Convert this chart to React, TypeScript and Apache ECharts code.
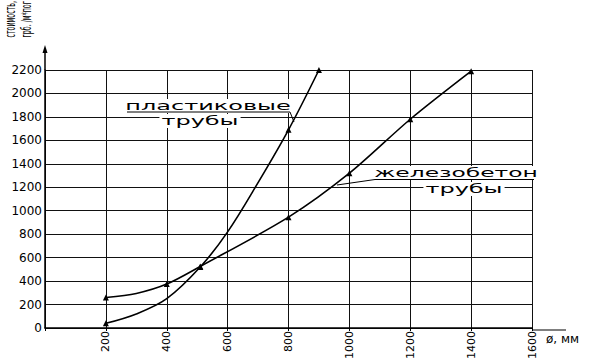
import React, { useEffect, useRef } from "react";
import * as echarts from "echarts";

// ---- data ----
const xTicks = [0, 1600, 200]; // min, max, interval (mm)
const yTicks = [0, 2200, 200]; // min, max, interval (cost)

const plasticX = [200, 300, 400, 510, 600, 700, 800, 900];
const plasticY = [40, 120, 250, 520, 820, 1240, 1690, 2200];
const plasticMarked = [true, false, false, true, false, false, true, true];

const concreteX = [200, 300, 400, 510, 800, 1000, 1200, 1400];
const concreteY = [260, 295, 375, 525, 945, 1320, 1780, 2190];
const concreteMarked = [true, false, true, true, true, true, true, true];

const yTitle1 = "стоимость,";
const yTitle2 = "грб. /м*пог";
const xTitle = "ø, мм";
const plasticLabel = ["пластиковые", "трубы"];
const concreteLabel = ["железобетон", "трубы"];

const FONT = "DejaVu Sans";

function build(xs: number[], ys: number[], marked: boolean[]) {
  return xs.map((x, i) => ({
    value: [x, ys[i]],
    symbol: marked[i] ? "triangle" : "none",
  }));
}

export default function App() {
  const ref = useRef<HTMLDivElement>(null);
  useEffect(() => {
    if (!ref.current) return;
    document.body.style.margin = "0";
    const chart = echarts.init(ref.current, undefined, { renderer: "svg" });
    const lineStyle = { color: "#000", width: 1.6 };
    const txt = (
      text: string,
      x: number,
      y: number,
      size: number,
      sx: number,
      bg?: boolean
    ) => ({
      type: "text",
      x,
      y,
      scaleX: sx,
      z: 10,
      style: {
        text,
        fontSize: size,
        fontFamily: FONT,
        fill: "#000",
        align: "center",
        verticalAlign: "middle",
        backgroundColor: bg ? "#fff" : undefined,
        padding: bg ? [1, 1] : undefined,
      },
    });
    const ln = (x1: number, y1: number, x2: number, y2: number, w = 1) => ({
      type: "line",
      z: 10,
      shape: { x1, y1, x2, y2 },
      style: { stroke: "#000", lineWidth: w },
    });
    const vtext = (text: string, x: number) => ({
      type: "text",
      x,
      y: 1,
      rotation: Math.PI / 2,
      scaleX: 0.45,
      style: {
        text,
        fontSize: 14,
        fontFamily: FONT,
        fill: "#000",
        align: "right",
        verticalAlign: "middle",
      },
    });
    chart.setOption({
      animation: false,
      backgroundColor: "#fff",
      grid: { left: 45, right: 77, top: 70, bottom: 32, containLabel: false },
      xAxis: {
        type: "value",
        min: xTicks[0],
        max: xTicks[1],
        interval: xTicks[2],
        axisLine: { show: true, lineStyle: { color: "#000", width: 1.5 } },
        axisTick: { show: true, length: 3, lineStyle: { color: "#000" } },
        splitLine: { show: true, lineStyle: { color: "#111", width: 1 } },
        axisLabel: {
          rotate: 90,
          margin: 3,
          color: "#000",
          fontSize: 11,
          fontFamily: FONT,
          formatter: (v: number) => (v === 0 ? "" : String(v)),
        },
      },
      yAxis: {
        type: "value",
        min: yTicks[0],
        max: yTicks[1],
        interval: yTicks[2],
        axisLine: { show: true, lineStyle: { color: "#000", width: 1.5 } },
        axisTick: { show: false },
        splitLine: { show: true, lineStyle: { color: "#111", width: 1 } },
        axisLabel: {
          margin: 3,
          color: "#000",
          fontSize: 12,
          fontFamily: FONT,
          formatter: (v: number) => String(v),
        },
      },
      series: [
        {
          name: "пластиковые трубы",
          type: "line",
          smooth: 0.35,
          symbolSize: 6,
          itemStyle: { color: "#000" },
          lineStyle,
          data: build(plasticX, plasticY, plasticMarked),
        },
        {
          name: "железобетон трубы",
          type: "line",
          smooth: 0.3,
          symbolSize: 6,
          itemStyle: { color: "#000" },
          lineStyle,
          data: build(concreteX, concreteY, concreteMarked),
        },
      ],
      graphic: [
        // y axis extension with arrow
        ln(45, 70, 45, 50, 1.5),
        {
          type: "polygon",
          shape: { points: [[45, 45], [42.5, 53], [47.5, 53]] },
          style: { fill: "#000" },
        },
        // x axis extension
        ln(532, 330, 566, 330, 1.2),
        {
          type: "text",
          x: 546,
          y: 339,
          style: {
            text: xTitle,
            fontSize: 12,
            fontFamily: FONT,
            fill: "#000",
            align: "left",
            verticalAlign: "middle",
          },
        },
        // y title, rotated
        vtext(yTitle1, 10),
        vtext(yTitle2, 26),
        // plastic label
        txt(plasticLabel[0], 208, 106, 12, 2.0, true),
        ln(127, 112, 290, 112),
        ln(290, 112, 294, 122),
        txt(plasticLabel[1], 200, 121, 12, 2.0, true),
        // concrete label
        txt(concreteLabel[0], 456, 173, 12, 1.95, true),
        ln(337, 185, 375, 179.5),
        ln(375, 179.5, 534, 179.5),
        txt(concreteLabel[1], 464, 189, 12, 2.0, true),
      ],
    });
    return () => chart.dispose();
  }, []);
  return (
    <div
      ref={ref}
      style={{ width: 609, height: 362, position: "fixed", left: 0, top: 0 }}
    />
  );
}
